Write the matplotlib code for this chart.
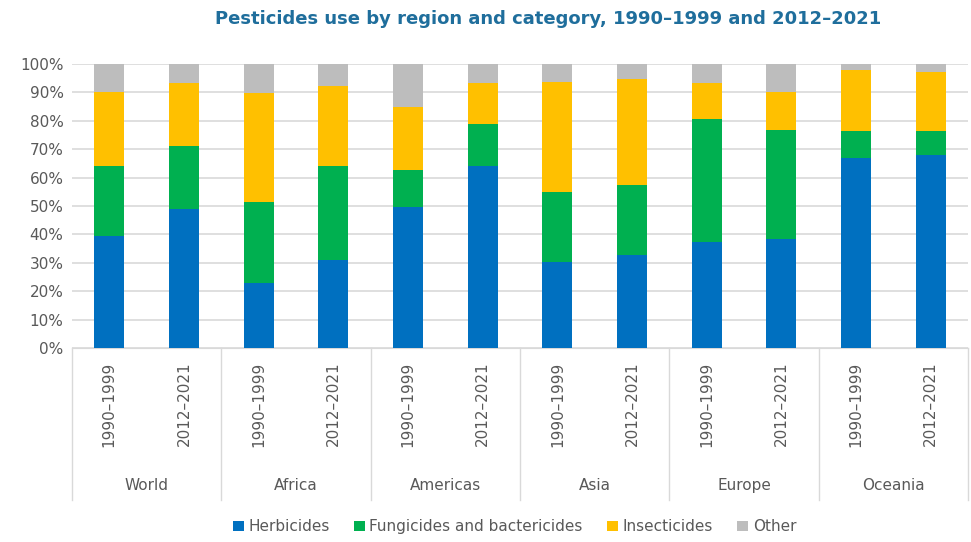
import numpy as np
import matplotlib.pyplot as plt
from matplotlib.transforms import blended_transform_factory

# shares in percent, one value per bar (region x period)
regions = ['World', 'Africa', 'Americas', 'Asia', 'Europe', 'Oceania']
periods = ['1990–1999', '2012–2021']
herbicides = [39.5, 49.0, 22.8, 31.0, 49.8, 64.0, 30.2, 32.7, 37.2, 38.3, 67.0, 68.0]
fungicides = [24.6, 22.0, 28.7, 33.0, 12.7, 14.9, 24.8, 24.7, 43.3, 38.5, 9.4, 8.4]
insecticides = [25.9, 22.4, 38.2, 28.4, 22.2, 14.5, 38.5, 37.2, 12.7, 13.5, 21.5, 20.9]
other = [10.0, 6.6, 10.3, 7.6, 15.3, 6.6, 6.5, 5.4, 6.8, 9.7, 2.1, 2.7]

series = [('Herbicides', herbicides, '#0070C0'),
          ('Fungicides and bactericides', fungicides, '#00B050'),
          ('Insecticides', insecticides, '#FFC000'),
          ('Other', other, '#BDBDBD')]

fig = plt.figure(figsize=(9.71, 5.42), dpi=100)
ax = fig.add_axes([0.074, 0.358, 0.923, 0.524])

x = np.arange(len(herbicides))
bottom = np.zeros(len(x))
for name, vals, col in series:
    ax.bar(x, vals, width=0.4, bottom=bottom, color=col, label=name, zorder=3)
    bottom += np.array(vals)

ax.set_xlim(-0.5, len(x) - 0.5)
ax.set_ylim(0, 100)
ax.set_yticks(np.arange(0, 101, 10))
ax.set_yticklabels([f'{v}%' for v in range(0, 101, 10)], fontsize=11, color='#595959')
ax.yaxis.grid(True, color='#D9D9D9', linewidth=1.2, zorder=0)
ax.tick_params(axis='y', length=0, pad=6)
for s in ['top', 'right', 'left']:
    ax.spines[s].set_visible(False)
ax.spines['bottom'].set_color('#D9D9D9')

# period labels under each bar
ax.set_xticks(x)
ax.set_xticklabels(periods * len(regions), rotation=90, fontsize=11, color='#595959')
ax.tick_params(axis='x', length=0, pad=10)

# region group labels and separators
trans = blended_transform_factory(ax.transData, ax.transAxes)
for i, r in enumerate(regions):
    ax.text(2 * i + 0.5, -0.485, r, transform=trans, ha='center', va='center',
            fontsize=11, color='#595959')
for b in np.arange(-0.5, len(x), 2):
    ax.plot([b, b], [0, -0.535], transform=trans, color='#D9D9D9',
            linewidth=1, clip_on=False)

fig.text(0.564, 0.965, 'Pesticides use by region and category, 1990–1999 and 2012–2021',
         ha='center', va='center', fontsize=13, fontweight='bold', color='#1F6E9C')

fig.legend(loc='center', bbox_to_anchor=(0.53, 0.028), ncol=4, frameon=False,
           fontsize=11, handlelength=0.7, handleheight=0.7, columnspacing=1.6,
           handletextpad=0.3, labelcolor='#595959')

fig.savefig('out.png', dpi=100)
